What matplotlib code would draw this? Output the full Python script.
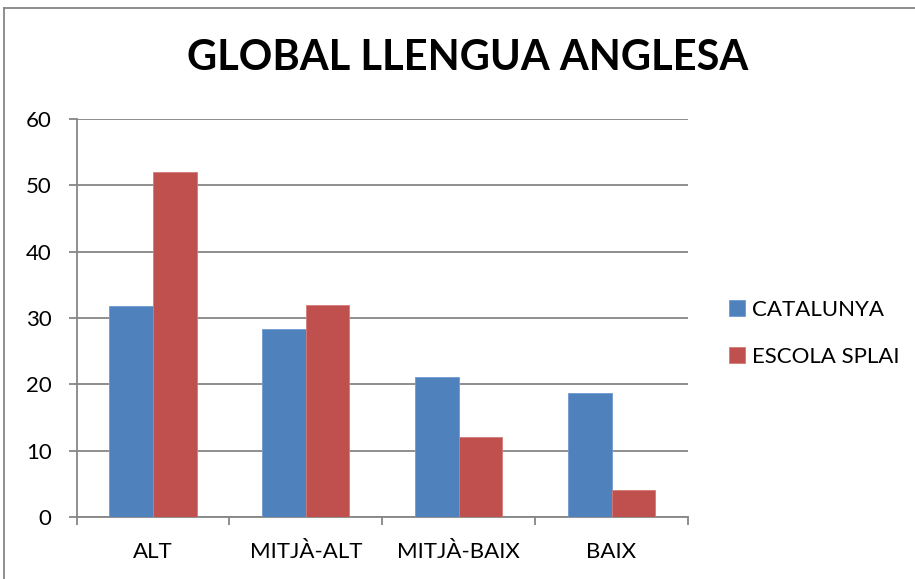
import matplotlib.pyplot as plt
from matplotlib.lines import Line2D
import numpy as np

categories = ['ALT', 'MITJÀ-ALT', 'MITJÀ-BAIX', 'BAIX']
catalunya = [31.8, 28.4, 21.1, 18.7]
escola_splai = [52, 32, 12, 4]
series_names = ['CATALUNYA', 'ESCOLA SPLAI']
yticks = [0, 10, 20, 30, 40, 50, 60]

blue = '#4F81BD'
red = '#C0504D'
grid_col = '#868686'

plt.rcParams['font.family'] = ['Lato', 'DejaVu Sans']

fig = plt.figure(figsize=(9.15, 5.79), dpi=100)
W, H = 915, 579
ax = fig.add_axes([76.5 / W, 1 - 517 / H, (688 - 76.5) / W, (517 - 119) / H])

x = np.arange(len(categories))
bw = 1 / 3.5
ax.bar(x - bw / 2, catalunya, bw, color=blue, edgecolor='#6f9ad0', linewidth=0.6, label=series_names[0], zorder=3)
ax.bar(x + bw / 2, escola_splai, bw, color=red, edgecolor='#d47a77', linewidth=0.6, label=series_names[1], zorder=3)

ax.set_xlim(-0.5, len(categories) - 0.5)
ax.set_ylim(0, 60)
ax.set_yticks(yticks)
ax.set_yticklabels([str(v) for v in yticks])
ax.yaxis.grid(True, color=grid_col, linewidth=1.3, zorder=0)

ax.set_xticks(np.arange(-0.5, len(categories), 1))
ax.set_xticklabels([])
ax.set_xticks(x, minor=True)
ax.set_xticklabels(categories, minor=True)
ax.tick_params(axis='x', which='major', length=6, width=1.3, color=grid_col)
ax.tick_params(axis='x', which='minor', length=0, pad=18, labelsize=16)
ax.tick_params(axis='y', length=6, width=1.3, color=grid_col, pad=12, labelsize=16)

for s in ['top', 'right']:
    ax.spines[s].set_visible(False)
for s in ['left', 'bottom']:
    ax.spines[s].set_color(grid_col)
    ax.spines[s].set_linewidth(1.3)

fig.text(468 / W, 1 - 58 / H, 'GLOBAL LLENGUA ANGLESA', ha='center', va='center',
         fontsize=30, fontweight='bold')

fig.legend(loc='upper left', bbox_to_anchor=(729 / W, 1 - 300 / H), frameon=False,
           fontsize=16, handlelength=0.7, handleheight=0.7, handletextpad=0.35,
           labelspacing=1.2, borderpad=0, borderaxespad=0)

# chart area border (top and left edges visible)
fig.add_artist(Line2D([4 / W, 4 / W], [0, 1 - 8 / H], color=grid_col, linewidth=1.3))
fig.add_artist(Line2D([4 / W, 1], [1 - 8 / H, 1 - 8 / H], color=grid_col, linewidth=1.3))

fig.savefig('out.png', dpi=100)
